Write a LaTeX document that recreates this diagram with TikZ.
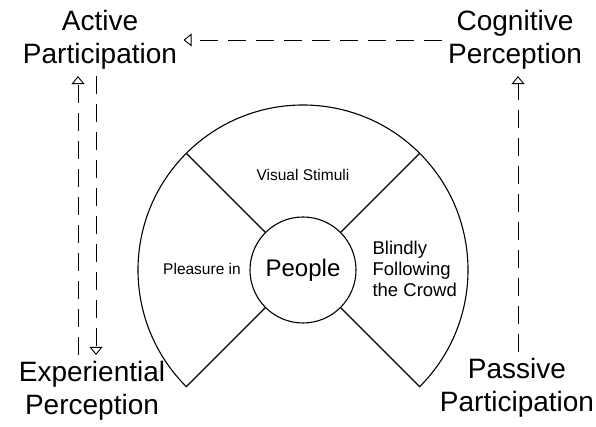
\documentclass[tikz,border=0pt]{standalone}
\usepackage{fontspec}
\setmainfont{Liberation Sans}
\usetikzlibrary{arrows.meta, calc}

\tikzset{
	corner/.style={align=center, inner sep=6pt, font=\fontsize{28}{33}\selectfont},
	flow/.style={-{Triangle[open, length=8pt, width=13pt]}, line width=0.9pt, dash pattern=on 18pt off 10pt},
	sector/.style={font=\fontsize{15.5}{19}\selectfont}
}

\begin{document}
\begin{tikzpicture}[x=1pt, y=1pt, line width=1.1pt]
		\useasboundingbox (0, 0) rectangle (596, 427);

		% wheel
		\coordinate (c) at (303, 157);
		\draw (c) ++(225:53) -- ++(225:112) arc[start angle=225, end angle=-45, radius=165] -- ($(c)+(-45:53)$);
		\draw ($(c)+(135:53)$) -- ($(c)+(135:165)$);
		\draw ($(c)+(45:53)$) -- ($(c)+(45:165)$);
		\node[draw, circle, minimum size=106pt, inner sep=0pt, font=\fontsize{24}{28}\selectfont] (people) at (c) {People};

		\node[sector] (visual) at (303, 252) {Visual Stimuli};
		\node[sector] (pleasure) at (202, 158) {Pleasure in};
		\node[align=left, anchor=west, inner sep=0pt, font=\fontsize{18.5}{21}\selectfont] (crowd) at (372, 158) {Blindly\\Following\\the Crowd};

		% corners
		\node[corner] (act) at (100, 387) {Active\\Participation};
		\node[corner] (cog) at (515, 387) {Cognitive\\Perception};
		\node[corner] (exp) at (92, 36) {Experiential\\Perception};
		\node[corner] (pas) at (517, 39) {Passive\\Participation};

		\coordinate (up) at (78, 0);
		\coordinate (down) at (96, 0);
		\coordinate (right) at (518, 0);

		\draw[flow] (cog.west) -- (act.east);
		\draw[flow] (exp.north -| up) -- (act.south -| up);
		\draw[flow] (act.south -| down) -- (exp.north -| down);
		\draw[flow] (pas.north -| right) -- (cog.south -| right);

	\end{tikzpicture}
\end{document}
